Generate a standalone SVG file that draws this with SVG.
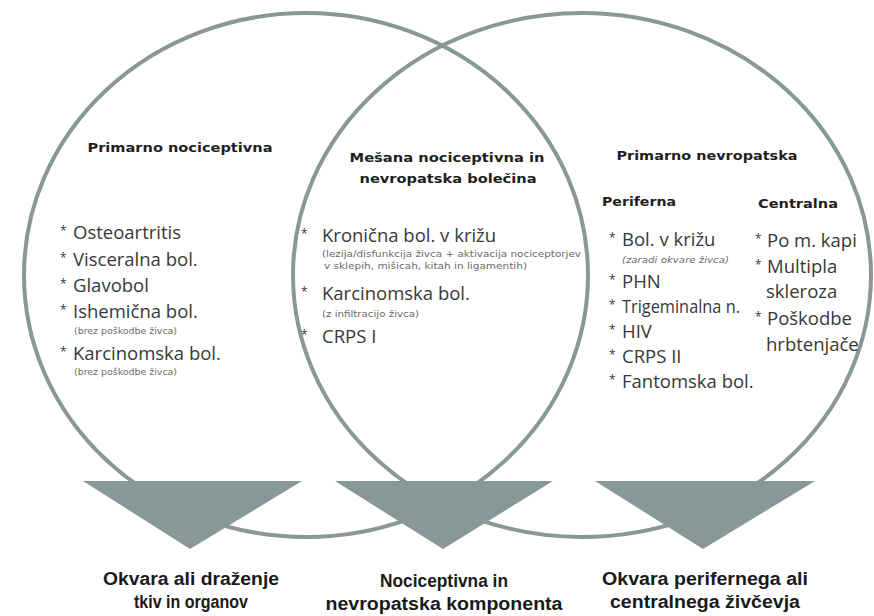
<svg xmlns="http://www.w3.org/2000/svg" width="874" height="616" viewBox="0 0 874 616">
<style>
.ring{fill:none;stroke:#889896;stroke-width:4}
.tri{fill:#889896;stroke:none}
.h{font-family:"DejaVu Sans","Open Sans",sans-serif;font-weight:700;font-size:13px;fill:#1e1e1e}
.it{font-family:"Open Sans","Liberation Sans",sans-serif;font-size:18.5px;fill:#383838}
.b{font-family:"Open Sans","Liberation Sans",sans-serif;font-size:12px;fill:#383838}
.s{font-family:"DejaVu Sans","Open Sans",sans-serif;font-size:8px;fill:#6a6a6a}
.lab{font-family:"Liberation Sans","Open Sans",sans-serif;font-weight:700;font-size:18px;fill:#1a1a1a}
</style>
<rect width="874" height="616" fill="#ffffff"/>
<g id="circles">
<ellipse class="ring" cx="306" cy="275" rx="282" ry="262"/>
<ellipse class="ring" cx="582" cy="275" rx="289" ry="262"/>
</g>
<g id="connectors"></g>
<g id="node-left">
<text class="h" x="180" y="152" text-anchor="middle" textLength="185" lengthAdjust="spacingAndGlyphs">Primarno nociceptivna</text>
<text class="b" x="60" y="235">*</text><text class="it" x="73" y="239">Osteoartritis</text>
<text class="b" x="60" y="262">*</text><text class="it" x="73" y="266">Visceralna bol.</text>
<text class="b" x="60" y="288">*</text><text class="it" x="73" y="292">Glavobol</text>
<text class="b" x="60" y="314">*</text><text class="it" x="73" y="318">Ishemična bol.</text>
<text class="s" x="74" y="334" textLength="103" lengthAdjust="spacingAndGlyphs">(brez poškodbe živca)</text>
<text class="b" x="60" y="356">*</text><text class="it" x="73" y="360">Karcinomska bol.</text>
<text class="s" x="74" y="375" textLength="103" lengthAdjust="spacingAndGlyphs">(brez poškodbe živca)</text>
</g>
<g id="node-mid">
<text class="h" x="447" y="162" text-anchor="middle" textLength="195" lengthAdjust="spacingAndGlyphs">Mešana nociceptivna in</text>
<text class="h" x="448" y="183" text-anchor="middle" textLength="177" lengthAdjust="spacingAndGlyphs">nevropatska bolečina</text>
<text class="b" x="301" y="238">*</text><text class="it" x="322" y="242">Kronična bol. v križu</text>
<text class="s" x="322" y="257" textLength="259" lengthAdjust="spacingAndGlyphs">(lezija/disfunkcija živca + aktivacija nociceptorjev</text>
<text class="s" x="324" y="269" textLength="203" lengthAdjust="spacingAndGlyphs">v sklepih, mišicah, kitah in ligamentih)</text>
<text class="b" x="301" y="296">*</text><text class="it" x="322" y="300">Karcinomska bol.</text>
<text class="s" x="322" y="317" textLength="97" lengthAdjust="spacingAndGlyphs">(z infiltracijo živca)</text>
<text class="b" x="301" y="339">*</text><text class="it" x="322" y="343">CRPS I</text>
</g>
<g id="node-right">
<text class="h" x="707" y="160" text-anchor="middle" textLength="181" lengthAdjust="spacingAndGlyphs">Primarno nevropatska</text>
<text class="h" x="602" y="206" textLength="74" lengthAdjust="spacingAndGlyphs">Periferna</text>
<text class="h" x="758" y="208" textLength="80" lengthAdjust="spacingAndGlyphs">Centralna</text>
<text class="b" x="609" y="242">*</text><text class="it" x="622" y="246">Bol. v križu</text>
<text class="s" x="622" y="263" font-style="italic" textLength="107" lengthAdjust="spacingAndGlyphs">(zaradi okvare živca)</text>
<text class="b" x="609" y="284">*</text><text class="it" x="622" y="288">PHN</text>
<text class="b" x="609" y="309">*</text><text class="it" x="622" y="313" textLength="118" lengthAdjust="spacingAndGlyphs">Trigeminalna n.</text>
<text class="b" x="609" y="334">*</text><text class="it" x="622" y="338">HIV</text>
<text class="b" x="609" y="359">*</text><text class="it" x="622" y="363">CRPS II</text>
<text class="b" x="609" y="384">*</text><text class="it" x="622" y="388">Fantomska bol.</text>
<text class="b" x="755" y="243">*</text><text class="it" x="767" y="247">Po m. kapi</text>
<text class="b" x="755" y="269">*</text><text class="it" x="767" y="273">Multipla</text>
<text class="it" x="766" y="298">skleroza</text>
<text class="b" x="755" y="321">*</text><text class="it" x="767" y="325">Poškodbe</text>
<text class="it" x="766" y="351">hrbtenjače</text>
</g>
<g id="node-tri-left">
<polygon class="tri" points="83,481 302,481 190,549"/>
<text class="lab" x="191" y="585" text-anchor="middle" textLength="176" lengthAdjust="spacingAndGlyphs">Okvara ali draženje</text>
<text class="lab" x="191" y="608" text-anchor="middle" textLength="114" lengthAdjust="spacingAndGlyphs">tkiv in organov</text>
</g>
<g id="node-tri-mid">
<polygon class="tri" points="335,481 553,481 443,549"/>
<text class="lab" x="444" y="587" text-anchor="middle" textLength="128" lengthAdjust="spacingAndGlyphs">Nociceptivna in</text>
<text class="lab" x="444" y="610" text-anchor="middle" textLength="237" lengthAdjust="spacingAndGlyphs">nevropatska komponenta</text>
</g>
<g id="node-tri-right">
<polygon class="tri" points="595,481 815,481 703,549"/>
<text class="lab" x="705" y="585" text-anchor="middle" textLength="206" lengthAdjust="spacingAndGlyphs">Okvara perifernega ali</text>
<text class="lab" x="705" y="608" text-anchor="middle" textLength="190" lengthAdjust="spacingAndGlyphs">centralnega živčevja</text>
</g>
</svg>
